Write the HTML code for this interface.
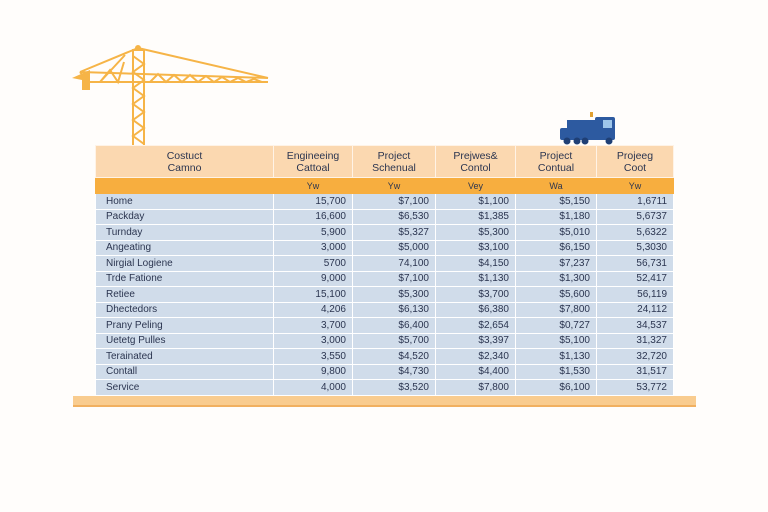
<!DOCTYPE html>
<html><head><meta charset="utf-8"><style>
body{margin:0;width:768px;height:512px;background:#fffdfb;position:relative;overflow:hidden;font-family:"Liberation Sans",sans-serif;color:#2b3550}
table{position:absolute;left:95px;top:145px;width:578px;border-collapse:collapse;table-layout:fixed;font-size:10px}
td{border:1px solid #fff;padding:0;}
.h td{background:#fbd8b0;height:31px;text-align:center;line-height:12px;font-size:10.5px;border-color:#fff3e6}
.s td{background:#f7ae3f;height:15px;text-align:center;font-size:9px;border-color:#f7ae3f}
.r td{background:#d0dcea;height:14.5px;text-align:right;padding-right:6px}
.r td:first-child{text-align:left;padding-left:10px}
</style></head><body>
<svg style="position:absolute;left:0;top:0" width="768" height="512">
<g stroke="#f6b447" fill="none" stroke-width="2">
<rect x="133" y="50" width="11" height="96"/>
<path d="M133 56 L144 64 L133 72 L144 80 L133 88 L144 96 L133 104 L144 112 L133 120 L144 128 L133 136 L144 144"/>
<path d="M138 48 L80 72 M138 48 L268 78 M80 72 L268 78 M88 82 L268 82 M80 72 L88 82"/>
<path d="M150 82 L158 74 L166 82 L174 75 L182 82 L190 75 L198 82 L206 76 L214 82 L222 77 L230 82 L238 78 L246 82 L254 79 L262 82 M100 82 L110 70 L118 82 L124 62 M100 82 L125 55"/>
</g>
<circle cx="138" cy="48" r="3" fill="#f6b447"/>
<path d="M72 78 L90 70 L90 90 L82 90 L82 80 Z" fill="#f6b447"/>
<g fill="#2d5aa0">
<rect x="560" y="128" width="55" height="12" rx="2"/>
<rect x="567" y="120" width="28" height="10"/>
<rect x="595" y="117" width="20" height="14" rx="2"/>
<circle cx="567" cy="141" r="3.5" fill="#1f3f75"/><circle cx="577" cy="141" r="3.5" fill="#1f3f75"/><circle cx="585" cy="141" r="3.5" fill="#1f3f75"/><circle cx="609" cy="141" r="3.5" fill="#1f3f75"/>
</g>
<rect x="603" y="120" width="9" height="8" fill="#9ec6ea"/>
<rect x="590" y="112" width="3" height="5" fill="#e0a030"/>
<rect x="73" y="396" width="623" height="10" fill="#f9cc8f"/>
<rect x="73" y="405" width="623" height="2" fill="#f1b060"/>
</svg>
<table>
<colgroup><col style="width:178px"><col style="width:79px"><col style="width:83px"><col style="width:80px"><col style="width:81px"><col style="width:77px"></colgroup>
<tr class="h"><td>Costuct<br>Camno</td><td>Engineeing<br>Cattoal</td><td>Project<br>Schenual</td><td>Prejwes&amp;<br>Contol</td><td>Project<br>Contual</td><td>Projeeg<br>Coot</td></tr>
<tr class="s"><td></td><td>Yw</td><td>Yw</td><td>Vey</td><td>Wa</td><td>Yw</td></tr>
<tr class="r"><td>Home</td><td>15,700</td><td>$7,100</td><td>$1,100</td><td>$5,150</td><td>1,6711</td></tr>
<tr class="r"><td>Packday</td><td>16,600</td><td>$6,530</td><td>$1,385</td><td>$1,180</td><td>5,6737</td></tr>
<tr class="r"><td>Turnday</td><td>5,900</td><td>$5,327</td><td>$5,300</td><td>$5,010</td><td>5,6322</td></tr>
<tr class="r"><td>Angeating</td><td>3,000</td><td>$5,000</td><td>$3,100</td><td>$6,150</td><td>5,3030</td></tr>
<tr class="r"><td>Nirgial Logiene</td><td>5700</td><td>74,100</td><td>$4,150</td><td>$7,237</td><td>56,731</td></tr>
<tr class="r"><td>Trde Fatione</td><td>9,000</td><td>$7,100</td><td>$1,130</td><td>$1,300</td><td>52,417</td></tr>
<tr class="r"><td>Retiee</td><td>15,100</td><td>$5,300</td><td>$3,700</td><td>$5,600</td><td>56,119</td></tr>
<tr class="r"><td>Dhectedors</td><td>4,206</td><td>$6,130</td><td>$6,380</td><td>$7,800</td><td>24,112</td></tr>
<tr class="r"><td>Prany Peling</td><td>3,700</td><td>$6,400</td><td>$2,654</td><td>$0,727</td><td>34,537</td></tr>
<tr class="r"><td>Uetetg Pulles</td><td>3,000</td><td>$5,700</td><td>$3,397</td><td>$5,100</td><td>31,327</td></tr>
<tr class="r"><td>Terainated</td><td>3,550</td><td>$4,520</td><td>$2,340</td><td>$1,130</td><td>32,720</td></tr>
<tr class="r"><td>Contall</td><td>9,800</td><td>$4,730</td><td>$4,400</td><td>$1,530</td><td>31,517</td></tr>
<tr class="r"><td>Service</td><td>4,000</td><td>$3,520</td><td>$7,800</td><td>$6,100</td><td>53,772</td></tr>
</table>
</body></html>
